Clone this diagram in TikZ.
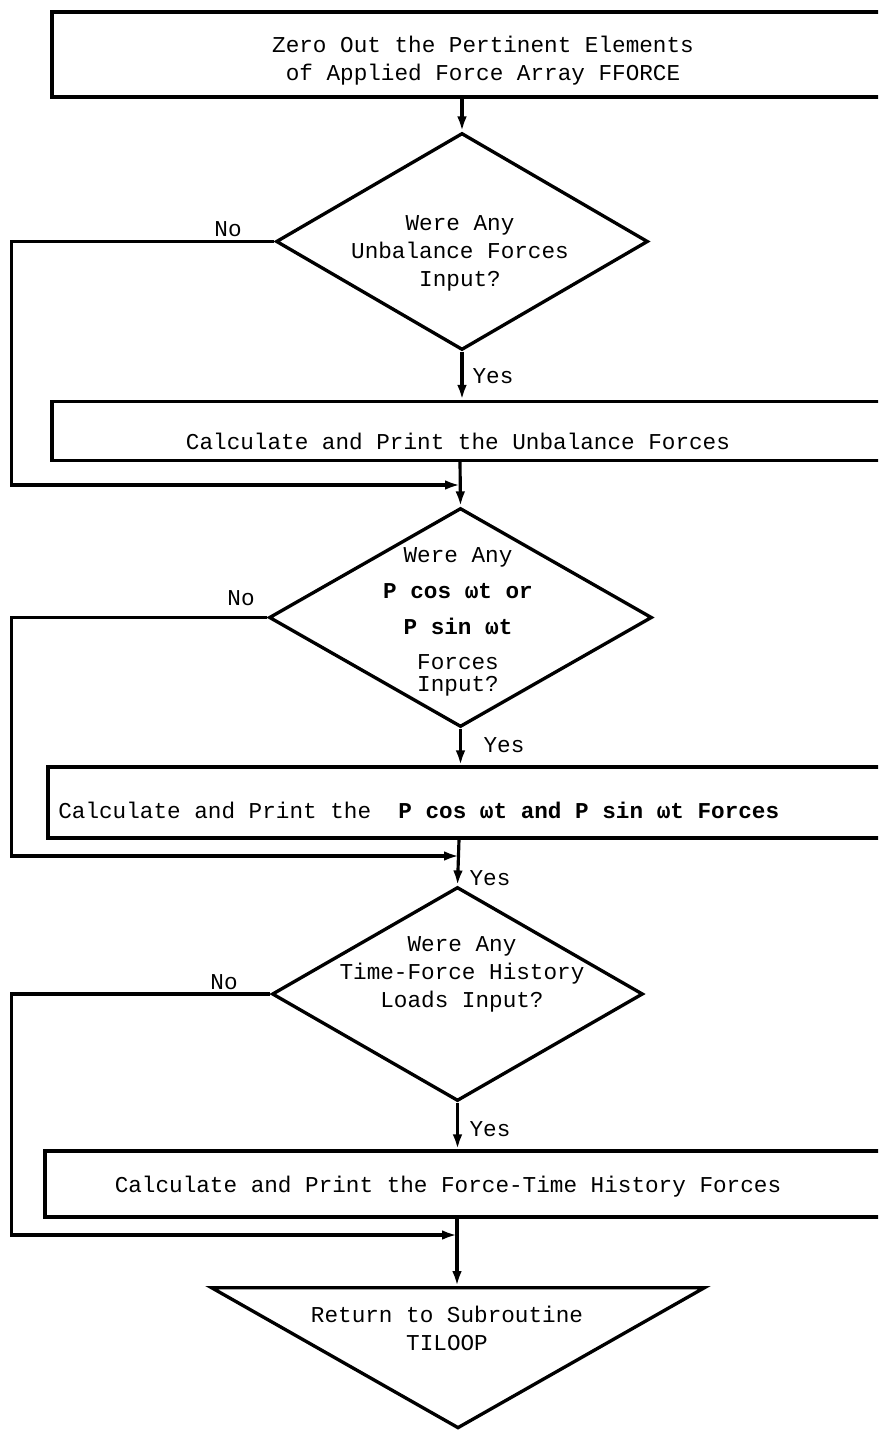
\documentclass[tikz,border=0pt]{standalone}
\usepackage{fontspec}
\newfontfamily\flowfont{Liberation Mono}
\usetikzlibrary{shapes.geometric,arrows.meta}

\tikzset{
    flowbox/.style={draw, line width=1.9pt, rectangle, inner sep=0pt},
    decision/.style={draw, line width=1.9pt, diamond, inner sep=0pt},
    flowtext/.style={font=\flowfont\fontsize{12.9pt}{15.9pt}\selectfont, align=center, inner sep=0pt},
    plainline/.style={line width=1.8pt},
    flowline/.style={line width=1.8pt, -{Latex[length=8.5pt,width=5.5pt]}},
}

\begin{document}
\begin{tikzpicture}[x=0.02cm, y=-0.02cm]

            \clip (0,0) rectangle (878,1435);

            \node[flowbox, minimum width=16.66cm, minimum height=1.70cm] (zero) at (468.5,54.5) {};
            \node[flowtext] (zerotxt) at (483,61) {Zero Out the Pertinent Elements\\of Applied Force Array FFORCE};

            \node[decision, minimum width=7.44cm, minimum height=4.34cm] (unbal) at (462,241.5) {};
            \node[flowtext] (unbaltxt) at (460,253) {Were Any\\Unbalance Forces\\Input?};

            \node[flowbox, minimum width=16.66cm, minimum height=1.18cm] (calcunbal) at (468.5,431) {};
            \node[flowtext] (calcunbaltxt) at (458,441) {Calculate and Print the Unbalance Forces};

            \node[decision, minimum width=7.66cm, minimum height=4.38cm] (harm) at (460.5,617.5) {};
            \node[flowtext] (harmtxt) at (458,622) {Were Any\\[4.5pt]{\bfseries P cos ωt or}\\[4.5pt]{\bfseries P sin ωt}\\[4.5pt]Forces\\[-3.4pt]Input?};

            \node[flowbox, minimum width=16.74cm, minimum height=1.42cm] (calcharm) at (466.5,802.5) {};
            \node[flowtext, anchor=west] (calcharmtxt) at (58,810) {Calculate and Print the\ \ {\bfseries P cos ωt and P sin ωt Forces}};

            \node[decision, minimum width=7.42cm, minimum height=4.28cm] (hist) at (457.5,994) {};
            \node[flowtext] (histtxt) at (462,974) {Were Any\\Time-Force History\\Loads Input?};

            \node[flowbox, minimum width=16.8cm, minimum height=1.32cm] (calchist) at (465,1184) {};
            \node[flowtext] (calchisttxt) at (448,1187) {Calculate and Print the Force-Time History Forces};

            \node[draw, line width=1.9pt, isosceles triangle, shape border rotate=-90,
                isosceles triangle stretches, minimum width=9.86cm, minimum height=2.8cm,
                inner sep=0pt, anchor=apex] (ret) at (458,1432) {};
            \node[flowtext] (rettxt) at (447,1328) {Return to Subroutine\\TILOOP};

            \coordinate (join1) at (460,485);
            \coordinate (join2) at (459,856);
            \coordinate (join3) at (457,1235);

            \node[flowtext] (no1) at (228,229) {No};
            \node[flowtext] (yes1) at (493,376) {Yes};
            \node[flowtext] (no2) at (241,598) {No};
            \node[flowtext] (yes2) at (504,745) {Yes};
            \node[flowtext] (yes3) at (490,878) {Yes};
            \node[flowtext] (no3) at (224,982) {No};
            \node[flowtext] (yes4) at (490,1129) {Yes};

            \draw[flowline] (unbal.north |- zero.south) -- (unbal.north);
            \draw[flowline] (unbal.south) -- (unbal.south |- calcunbal.north);
            \draw[flowline] (unbal.west) -- ++(-263,0) |- (join1);
            \draw[flowline] (calcunbal.south -| join1) -- (harm.north);

            \draw[flowline] (harm.south) -- (harm.south |- calcharm.north);
            \draw[flowline] (harm.west) -- ++(-256,0) |- (join2);
            \draw[flowline] (calcharm.south -| join2) -- (hist.north);

            \draw[flowline] (hist.south) -- (hist.south |- calchist.north);
            \draw[flowline] (hist.west) -- ++(-259,0) |- (join3);
            \draw[flowline] (calchist.south -| join3) -- (join3 |- ret.north);
        \end{tikzpicture}
\end{document}
